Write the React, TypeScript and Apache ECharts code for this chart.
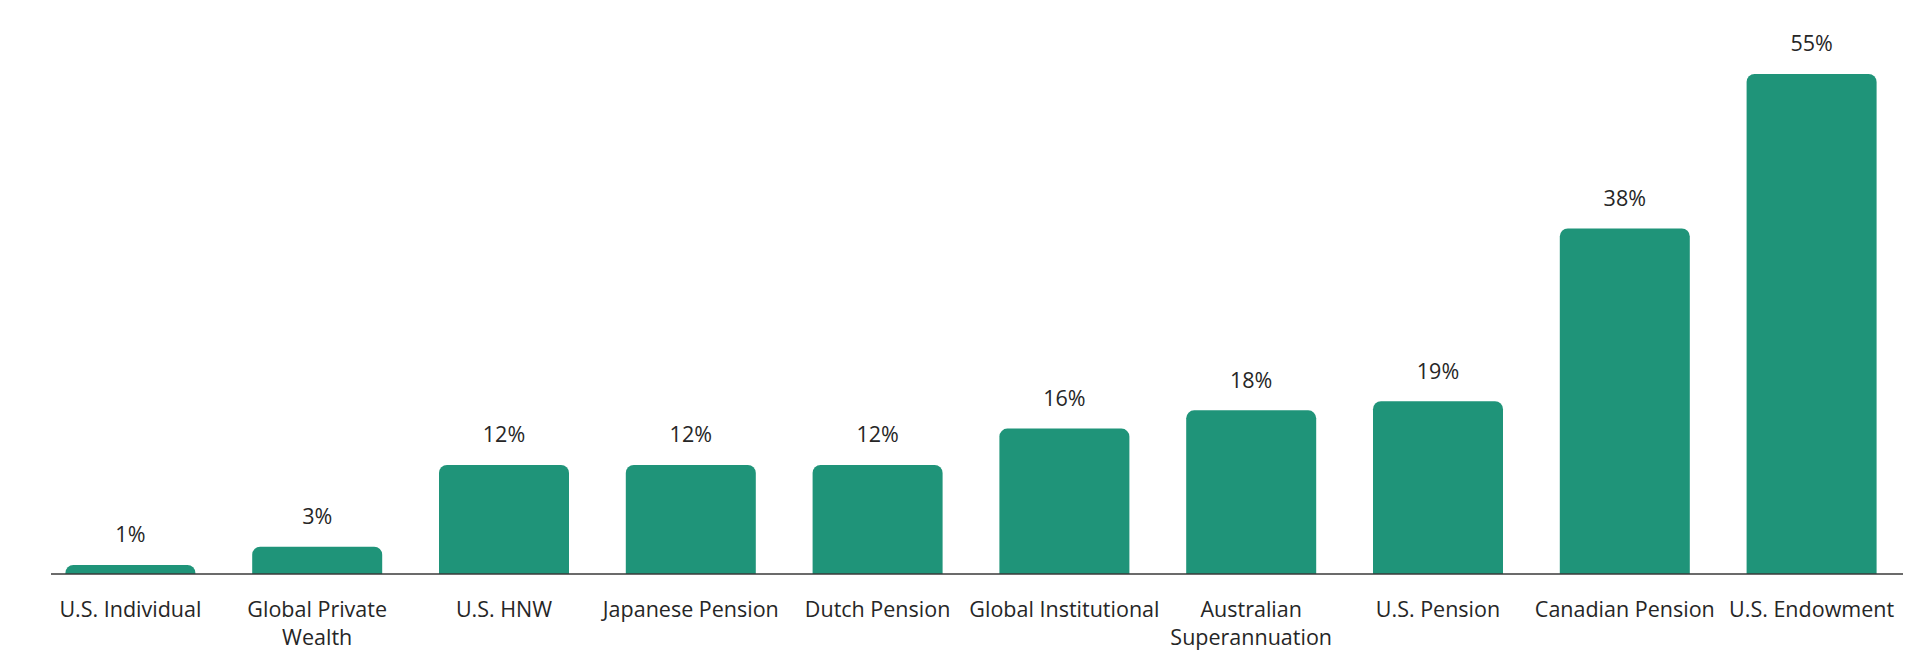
import React, { useEffect, useRef } from "react";
import * as echarts from "echarts";

const categories = [
  "U.S. Individual",
  "Global Private\nWealth",
  "U.S. HNW",
  "Japanese Pension",
  "Dutch Pension",
  "Global Institutional",
  "Australian\nSuperannuation",
  "U.S. Pension",
  "Canadian Pension",
  "U.S. Endowment",
];
const allocation = [1, 3, 12, 12, 12, 16, 18, 19, 38, 55];

const BAR = "#1f9479";
const TEXT = "#262626";
const FONT = "'Open Sans', Lato, sans-serif";

export default function App() {
  const ref = useRef<HTMLDivElement>(null);
  useEffect(() => {
    if (!ref.current) return;
    const chart = echarts.init(ref.current, undefined, { renderer: "svg" });
    chart.setOption({
      animation: false,
      backgroundColor: "#ffffff",
      grid: { left: 37, right: 15, top: 28.5, bottom: 86, containLabel: false },
      xAxis: {
        type: "category",
        data: categories,
        axisLine: { show: false },
        axisTick: { show: false },
        axisLabel: {
          interval: 0,
          color: TEXT,
          fontFamily: FONT,
          fontSize: 21.5,
          fontWeight: 400,
          lineHeight: 28,
          margin: 20,
          verticalAlign: "top",
        },
      },
      yAxis: {
        type: "value",
        min: 0,
        max: 60,
        show: false,
        splitLine: { show: false },
      },
      graphic: [
        {
          type: "line",
          shape: { x1: 51, y1: 574, x2: 1903, y2: 574 },
          style: { stroke: "#3a3a3a", lineWidth: 1.5 },
          z: 10,
        },
      ],
      series: [
        {
          type: "bar",
          data: allocation,
          barWidth: 130,
          itemStyle: { color: BAR, borderRadius: [8, 8, 0, 0] },
          label: {
            show: true,
            position: "top",
            distance: 20,
            formatter: "{c}%",
            color: TEXT,
            fontFamily: FONT,
            fontSize: 21.5,
            fontWeight: 400,
          },
        },
      ],
    });
    return () => chart.dispose();
  }, []);
  return (
    <div
      ref={ref}
      style={{ position: "fixed", left: 0, top: 0, width: 1920, height: 660 }}
    />
  );
}
